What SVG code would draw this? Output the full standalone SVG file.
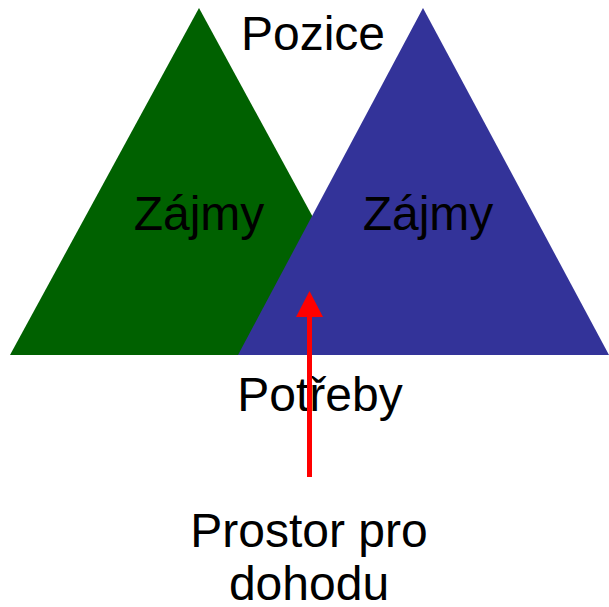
<svg xmlns="http://www.w3.org/2000/svg" width="609" height="607" viewBox="0 0 609 607">
<style>
text{font-family:"Liberation Sans",Arial,sans-serif;font-size:48px;fill:#000;text-anchor:middle}
</style>
<defs>
<marker id="ah" viewBox="0 0 26 26" markerWidth="26" markerHeight="26" refX="13" refY="0" orient="auto" markerUnits="userSpaceOnUse">
<path d="M0,26 L13,0 L26,26 Z" fill="#ff0000"/>
</marker>
</defs>
<rect width="609" height="607" fill="#fff"/>
<g id="green"><polygon points="199,8 10,355 388,355" fill="#006100"/><text x="199" y="230">Zájmy</text></g>
<g id="blue"><polygon points="423,8 238,355 609,355" fill="#333399"/><text x="428" y="230">Zájmy</text></g>
<g id="pozice"><text x="313" y="50">Pozice</text></g>
<g id="potreby"><text x="320" y="411">Potřeby</text></g>
<g id="dohoda"><text x="309" y="547">Prostor pro</text><text x="309" y="600">dohodu</text></g>
<g id="connectors">
<line x1="309.5" y1="477" x2="309.5" y2="317" stroke="#ff0000" stroke-width="5"/>
<polygon points="309.5,291 296,317 323,317" fill="#ff0000"/>
</g>
</svg>
